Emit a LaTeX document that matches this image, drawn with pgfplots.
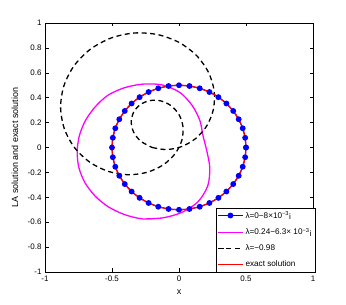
\documentclass[border=0pt]{standalone}
\usepackage{pgfplots}
\pgfplotsset{compat=1.18}
\usepackage{pgfplotstable}
\usepackage{fontspec}
\setmainfont{Liberation Sans}
\definecolor{mmag}{rgb}{1,0,1}
\definecolor{mblue}{rgb}{0,0,1}
\definecolor{mred}{rgb}{1,0,0}

\pgfplotstableread{
x y
0.5000 0.0000
0.4938 0.0782
0.4755 0.1545
0.4455 0.2270
0.4045 0.2939
0.3536 0.3536
0.2939 0.4045
0.2270 0.4455
0.1545 0.4755
0.0782 0.4938
0.0000 0.5000
-0.0782 0.4938
-0.1545 0.4755
-0.2270 0.4455
-0.2939 0.4045
-0.3536 0.3536
-0.4045 0.2939
-0.4455 0.2270
-0.4755 0.1545
-0.4938 0.0782
-0.5000 0.0000
-0.4938 -0.0782
-0.4755 -0.1545
-0.4455 -0.2270
-0.4045 -0.2939
-0.3536 -0.3536
-0.2939 -0.4045
-0.2270 -0.4455
-0.1545 -0.4755
-0.0782 -0.4938
0.0000 -0.5000
0.0782 -0.4938
0.1545 -0.4755
0.2270 -0.4455
0.2939 -0.4045
0.3536 -0.3536
0.4045 -0.2939
0.4455 -0.2270
0.4755 -0.1545
0.4938 -0.0782
0.5000 0.0000
}\circletab

\pgfplotstableread{
x y
-0.270 -0.574
-0.126 -0.566
0.015 -0.524
0.139 -0.439
0.214 -0.310
0.230 -0.164
0.208 -0.030
0.180 0.091
0.156 0.216
0.098 0.338
0.004 0.444
-0.127 0.503
-0.270 0.509
-0.407 0.480
-0.530 0.420
-0.626 0.326
-0.698 0.217
-0.743 0.097
-0.760 -0.030
-0.748 -0.158
-0.703 -0.280
-0.628 -0.388
-0.528 -0.476
-0.406 -0.539
-0.270 -0.574
-0.126 -0.566
}\magtab

\pgfplotstableread{
x y
-0.2003 0.0000
-0.0952 -0.0168
0.0177 0.0064
0.1234 0.0713
0.2073 0.1739
0.2567 0.3060
0.2624 0.4545
0.2200 0.6043
0.1304 0.7393
0.0000 0.8443
-0.1599 0.9069
-0.3347 0.9195
-0.5076 0.8791
-0.6619 0.7889
-0.7828 0.6569
-0.8588 0.4959
-0.8836 0.3216
-0.8559 0.1509
-0.7803 0.0000
-0.6664 -0.1175
-0.5274 -0.1919
-0.3789 -0.2188
-0.2370 -0.1989
-0.1161 -0.1383
-0.0276 -0.0478
0.0216 0.0593
0.0296 0.1681
0.0000 0.2643
-0.0592 0.3357
-0.1363 0.3745
-0.2176 0.3768
-0.2891 0.3446
-0.3385 0.2840
-0.3565 0.2059
-0.3386 0.1232
-0.2847 0.0502
-0.2003 0.0000
}\dashtab

\begin{document}
\begin{tikzpicture}
\path[use as bounding box] (0,0) rectangle (346bp,305bp);
\begin{axis}[
  scale only axis,
  width=268bp, height=249bp,
  at={(45bp,33bp)}, anchor=south west,
  xmin=-1, xmax=1, ymin=-1, ymax=1,
  xtick={-1,-0.5,0,0.5,1},
  ytick={-1,-0.8,-0.6,-0.4,-0.2,0,0.2,0.4,0.6,0.8,1},
  yticklabel style={/pgf/number format/fixed,/pgf/number format/precision=1},
  /pgf/number format/assume math mode=true,
  tick align=inside,
  tick pos=both,
  xticklabel pos=lower, yticklabel pos=left,
  major tick length=3.5bp,
  axis line style={line width=0.5bp},
  tick style={black, line width=0.5bp},
  ticklabel style={font=\fontsize{8}{9}\selectfont},
  label style={font=\fontsize{9}{10}\selectfont},
  xlabel={x},
  ylabel={LA solution and exact solution},
  xlabel style={at={(axis description cs:0.5,-0.08)}, anchor=center},
  ylabel style={at={(axis description cs:-0.112,0.5)}, anchor=center},
  legend style={at={(1.008,0)}, anchor=south east, draw=black, line width=0.5bp,
    font=\fontsize{8.2}{9.5}\selectfont, inner sep=1.5bp, row sep=4.5bp,
    legend cell align=left},
  legend image code/.code={
    \draw[mark repeat=2,mark phase=2,#1] plot coordinates {(0bp,0bp) (12.5bp,0bp) (25bp,0bp)};
  },
]
\addplot[mblue, line width=1bp, mark=*, mark size=2.4bp, mark options={solid, fill=mblue, draw=mblue}] table {\circletab};
\addlegendentry{λ=0−8×10\textsuperscript{−3}\raisebox{-1.5bp}{i}}
\addplot[mmag, line width=1.3bp, smooth] table {\magtab};
\addlegendentry{λ=0.24−6.3× 10\textsuperscript{−3}\raisebox{-1.5bp}{i}}
\addplot[black, line width=1.3bp, dash pattern=on 5bp off 3.5bp, smooth] table {\dashtab};
\addlegendentry{λ=−0.98}
\addplot[mred, line width=1.3bp, smooth] table {\circletab};
\addlegendentry{exact solution}
\end{axis}
\end{tikzpicture}
\end{document}
